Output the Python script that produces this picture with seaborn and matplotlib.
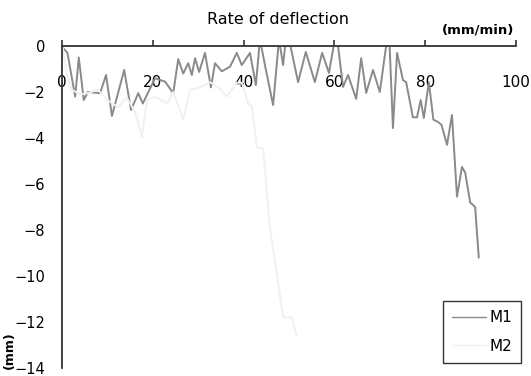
import matplotlib
matplotlib.use("Agg")
import matplotlib.pyplot as plt
import seaborn as sns
import pandas as pd

# ---- data ----
m1_x = [0.3, 1.2, 2.9, 3.7, 4.8, 5.7, 8.4, 9.7, 11.0, 13.7, 15.2, 16.8, 17.8, 20.5, 22.7,
        24.5, 25.6, 26.7, 27.8, 28.6, 29.3, 30.2, 31.5, 32.8, 33.7, 35.2, 37.0, 38.5, 39.6,
        41.4, 42.7, 43.6, 44.7, 46.5, 47.8, 48.7, 49.3, 50.0, 52.0, 53.7, 55.7, 57.3, 58.8,
        60.1, 60.8, 61.9, 63.0, 64.8, 65.9, 67.0, 68.5, 70.0, 71.6, 72.1, 72.9, 73.8, 75.1,
        75.8, 77.3, 78.2, 79.0, 79.7, 80.8, 81.8, 82.8, 83.6, 84.8, 85.9, 87.0, 88.1, 88.8,
        89.9, 91.0, 91.8]
m1_y = [-0.1, -0.3, -2.2, -0.5, -2.35, -2.0, -2.05, -1.26, -3.04, -1.04, -2.78, -2.05, -2.5,
        -1.4, -1.55, -2.05, -0.57, -1.2, -0.75, -1.26, -0.53, -1.13, -0.3, -1.8, -0.75, -1.1,
        -0.9, -0.3, -0.83, -0.3, -1.7, 0.3, -0.83, -2.57, 0.3, -0.83, 0.3, 0.3, -1.57, -0.26,
        -1.57, -0.3, -1.17, 0.3, 0.0, -1.78, -1.26, -2.3, -0.53, -2.04, -1.04, -2.0, 0.3, 0.3,
        -3.57, -0.3, -1.48, -1.57, -3.1, -3.1, -2.35, -3.13, -1.57, -3.2, -3.3, -3.43, -4.3,
        -3.0, -6.55, -5.26, -5.5, -6.8, -7.0, -9.2]

m2_x = [0.2, 1.0, 2.2, 4.0, 5.7, 7.9, 10.0, 12.3, 14.3, 16.1, 17.6, 18.7, 20.5, 23.1, 24.5,
        26.7, 28.2, 30.4, 32.6, 34.5, 36.3, 38.5, 39.6, 41.0, 41.8, 42.9, 44.3, 45.8, 47.3,
        48.7, 50.6, 51.7]
m2_y = [-0.1, -1.2, -1.9, -2.1, -2.05, -1.9, -2.35, -2.65, -2.26, -2.87, -3.96, -2.35, -2.2,
        -2.5, -2.0, -3.2, -1.9, -1.8, -1.57, -1.8, -2.2, -1.6, -1.6, -2.5, -2.6, -4.4, -4.45,
        -7.9, -9.9, -11.8, -11.8, -12.6]

x_ticks = [0, 20, 40, 60, 80, 100]
y_ticks = [0, -2, -4, -6, -8, -10, -12, -14]

title = "Rate of deflection"
x_unit = "(mm/min)"
y_unit = "(mm)"

df = pd.concat([
    pd.DataFrame({"x": m1_x, "y": m1_y, "series": "M1"}),
    pd.DataFrame({"x": m2_x, "y": m2_y, "series": "M2"}),
], ignore_index=True)

sns.set_style("white")
plt.rcParams["font.family"] = ["DejaVu Sans"]

fig = plt.figure(figsize=(5.31, 3.76), dpi=100)
ax = fig.add_axes([62 / 531, 1 - 368 / 376, (516 - 62) / 531, (368 - 46) / 376])

sns.lineplot(data=df, x="x", y="y", hue="series", sort=False, estimator=None,
             palette={"M1": "#8a8a8a", "M2": "#f0f0f0"}, linewidth=1.4, ax=ax,
             legend=True)

ax.set_xlim(0, 100)
ax.set_ylim(-14, 0)
ax.set_xticks(x_ticks)
ax.set_yticks(y_ticks)
ax.set_xlabel("")
ax.set_ylabel("")

for s in ["right", "bottom"]:
    ax.spines[s].set_visible(False)
for s in ["left", "top"]:
    ax.spines[s].set_color("#333333")
    ax.spines[s].set_linewidth(1.3)

ax.xaxis.set_ticks_position("top")
ax.tick_params(axis="x", direction="out", length=4, width=1.2, color="#333333",
               labeltop=True, labelbottom=False, pad=-30, labelsize=11, labelcolor="black")
ax.tick_params(axis="y", direction="in", length=4, width=1.2, color="#333333",
               pad=12, labelsize=10.5, labelcolor="black")
for lbl in ax.get_xticklabels():
    lbl.set_verticalalignment("center")

fig.text(278 / 531, 1 - 20 / 376, title, ha="center", va="center", fontsize=11.5,
         color="black")
fig.text(478 / 531, 1 - 30 / 376, x_unit, ha="center", va="center", fontsize=9.5,
         fontweight="bold", color="black")
fig.text(9 / 531, 1 - 350 / 376, y_unit, ha="center", va="center", fontsize=9,
         fontweight="bold", rotation=90, color="black")

handles, labels = ax.get_legend_handles_labels()
for h in handles:
    h.set_linewidth(1.0)
leg = ax.legend(handles, labels, loc="lower right", bbox_to_anchor=(521 / 531, 1 - 363 / 376),
                bbox_transform=fig.transFigure, borderaxespad=0, fancybox=False,
                edgecolor="#333333", framealpha=1, fontsize=11, handlelength=2.2,
                labelspacing=0.9, borderpad=0.6, handletextpad=0.2, title=None)
leg.get_frame().set_linewidth(1.0)
for t in leg.get_texts():
    t.set_color("black")

fig.savefig("out.png", dpi=100)
